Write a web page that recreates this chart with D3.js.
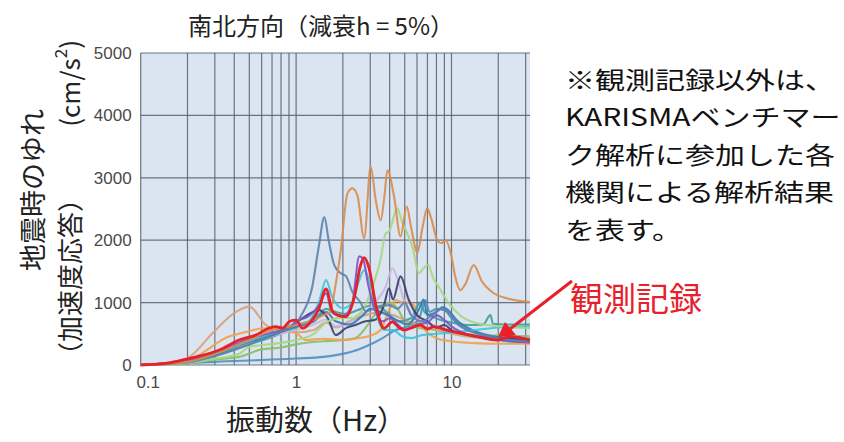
<!DOCTYPE html>
<html>
<head>
<meta charset="utf-8">
<script src="https://cdn.jsdelivr.net/npm/d3@7"></script>
<style>
body{margin:0;background:#fff;}
svg text{font-family:"Noto Sans CJK JP","Noto Sans",sans-serif;}
</style>
</head>
<body>
<svg id="chart" width="844" height="442"></svg>
<script>
//
// data : [frequency Hz, acceleration response cm/s2]
//
var yTicks = [0, 1000, 2000, 3000, 4000, 5000];
var xLabels = [0.1, 1, 10];

var orangeBig = [[0.1,0],[0.2,50],[0.3,180],[0.5,400],[0.7,560],[1,640],[1.3,720],[1.5,800],[1.65,850],[1.8,1300],[1.94,1840],[2.14,2750],[2.3,2830],[2.48,2720],[2.74,2030],[3.02,3180],[3.25,2650],[3.5,2320],[3.7,2700],[3.87,3120],[4.27,2700],[4.7,2060],[5.15,2540],[5.5,2200],[6.03,1800],[6.5,2200],[6.98,2510],[7.4,2350],[8.1,2000],[8.6,1950],[9.1,2000],[10,1740],[10.5,1450],[11.4,1200],[12.3,1300],[13.9,1600],[15.7,1340],[18.7,1150],[22.7,1070],[32,1010]];
var steelBlue = [[0.1,0],[0.2,40],[0.3,150],[0.5,330],[0.7,480],[0.85,560],[1,660],[1.07,780],[1.27,1250],[1.4,1900],[1.52,2370],[1.62,2000],[1.76,1600],[1.94,1470],[2.1,1420],[2.3,1175],[2.6,1000],[2.81,860],[3.1,900],[3.5,950],[4,960],[4.5,900],[5,1000],[5.5,800],[6.5,700],[7.5,800],[8.5,900],[9.5,850],[11,650],[14,520],[20,430],[32,380]];
var lightGreen = [[0.1,0],[0.2,30],[0.3,100],[0.43,180],[0.5,290],[0.78,350],[1,400],[1.3,500],[1.6,700],[2,760],[2.3,750],[2.7,900],[3.1,1250],[3.5,1700],[3.77,2110],[3.96,2140],[4.48,2510],[4.8,2300],[5.19,2110],[5.6,1900],[6.18,1470],[6.6,1550],[7.1,1600],[7.6,1400],[8.3,1250],[9.6,990],[11.7,770],[14,680],[20,620],[32,590]];
var purple = [[0.1,0],[0.2,70],[0.3,200],[0.5,420],[0.7,520],[0.9,600],[1,700],[1.2,780],[1.4,950],[1.56,1150],[1.7,850],[2,780],[2.3,1000],[2.55,1740],[2.7,1700],[2.9,1300],[3.2,900],[3.6,700],[4,750],[4.5,650],[5,560],[6,650],[7,680],[8,800],[9,720],[10,620],[13,480],[18,420],[32,360]];
var navy = [[0.1,0],[0.2,60],[0.3,170],[0.5,380],[0.7,480],[0.9,600],[1.1,750],[1.41,880],[1.6,750],[1.8,480],[2.09,590],[2.4,640],[2.8,700],[3.2,720],[3.68,960],[3.96,1230],[4.2,1050],[4.7,1420],[5.3,1050],[6,800],[7,700],[8,600],[9,640],[10,560],[13,480],[20,430],[32,400]];
var lavender = [[0.1,0],[0.2,50],[0.3,160],[0.5,350],[0.7,470],[1,560],[1.3,650],[1.56,730],[1.8,620],[2.1,650],[2.5,800],[2.8,850],[3.2,1000],[3.77,1250],[4.16,1550],[4.6,1300],[5,1000],[5.6,800],[6.5,700],[8,620],[10,560],[14,470],[20,430],[32,400]];
var cyan = [[0.1,0],[0.2,50],[0.3,170],[0.5,380],[0.7,500],[1,650],[1.2,700],[1.4,1000],[1.56,1360],[1.7,1100],[2,910],[2.3,1000],[2.5,1300],[2.75,1520],[3,1300],[3.3,800],[3.7,560],[4.2,560],[4.8,460],[5.5,430],[6.5,480],[8,500],[10,520],[14,560],[20,600],[32,620]];
var teal = [[0.1,0],[0.2,40],[0.3,140],[0.5,330],[0.7,450],[1,600],[1.3,720],[1.56,900],[1.8,850],[2.1,820],[2.5,880],[3,950],[3.5,920],[4,800],[4.5,700],[5.5,750],[6.3,1000],[6.7,850],[7.5,780],[8.5,720],[10,680],[13,640],[16,650],[17.8,800],[18.5,660],[22,650],[32,650]];
var tan = [[0.1,0],[0.15,40],[0.2,110],[0.29,510],[0.41,850],[0.5,935],[0.64,640],[0.8,560],[1,520],[1.3,560],[1.56,680],[1.8,600],[2.2,700],[2.8,800],[3.5,850],[4.2,800],[5,720],[6,650],[8,560],[10,500],[14,440],[20,420],[32,400]];
var lightOrange = [[0.1,0],[0.2,80],[0.37,455],[0.5,540],[0.61,590],[0.8,560],[1,510],[1.16,400],[1.5,420],[2,400],[2.5,430],[3,470],[3.5,560],[4,900],[4.4,1040],[4.7,1015],[5.2,1000],[5.75,960],[6.2,690],[7,520],[8,430],[10,380],[14,350],[20,340],[32,340]];
var blueLow = [[0.1,0],[0.3,50],[1,105],[1.5,130],[2.1,190],[2.3,215],[2.95,320],[3.6,430],[4.37,560],[5,600],[5.5,640],[6.2,750],[6.8,1040],[7.2,850],[8,900],[9,880],[10,750],[12,600],[15,500],[20,400],[32,350]];
var green2 = [[0.1,0],[0.2,30],[0.3,90],[0.43,130],[0.6,250],[0.8,280],[1,330],[1.2,360],[1.5,380],[2,400],[2.4,430],[3,700],[3.4,900],[4,1000],[4.5,900],[5,700],[6,600],[8,560],[10,520],[15,480],[20,470],[32,460]];
var blueMid = [[0.1,0],[0.2,60],[0.3,170],[0.5,370],[0.7,480],[1,620],[1.3,700],[1.56,850],[1.8,700],[2.2,650],[2.7,800],[3,900],[3.5,850],[4,780],[4.6,700],[5.2,650],[6.2,900],[6.6,1050],[7,800],[8,850],[8.8,930],[9.5,880],[11,700],[14,550],[20,450],[32,420]];
// observed record
var observed = [[0.1,0],[0.15,30],[0.2,100],[0.32,240],[0.43,400],[0.55,480],[0.67,590],[0.74,615],[0.82,590],[0.91,700],[1,720],[1.1,590],[1.25,700],[1.4,900],[1.56,1220],[1.72,850],[1.85,800],[2.09,775],[2.36,1070],[2.6,1600],[2.74,1720],[2.95,1550],[3.26,960],[3.68,590],[4.16,690],[4.6,600],[4.95,560],[5.6,600],[6.3,640],[7,580],[7.7,615],[9.3,560],[11.4,510],[14.6,455],[19.6,400],[23.9,455],[32,400]];

var series = [
    {d: blueLow, c: "#4f8fc0"},
    {d: green2, c: "#86bf62"},
    {d: tan, c: "#d6a07c"},
    {d: lightOrange, c: "#f2a046"},
    {d: teal, c: "#3f9e9b"},
    {d: lavender, c: "#c6b6dc"},
    {d: blueMid, c: "#3a78b4"},
    {d: navy, c: "#3b3d6e"},
    {d: cyan, c: "#39c4dc"},
    {d: lightGreen, c: "#a6d67e"},
    {d: purple, c: "#7d52c6"},
    {d: steelBlue, c: "#5b82ac"},
    {d: orangeBig, c: "#d98c4e"}
];

var svg = d3.select("#chart");
var x = d3.scaleLog().domain([0.1, 32]).range([140.7, 530]);
var y = d3.scaleLinear().domain([0, 5000]).range([365, 53]);

// plot background
svg.append("rect")
    .attr("x", x(0.1)).attr("y", y(5000))
    .attr("width", x(32) - x(0.1)).attr("height", y(0) - y(5000))
    .attr("fill", "#dbe5f1");

// grid
var grid = svg.append("g").attr("stroke", "#56606e").attr("stroke-width", 1.2).attr("stroke-opacity", 0.85);
grid.selectAll("line.v").data(x.ticks()).enter().append("line")
    .attr("x1", d => x(d)).attr("x2", d => x(d))
    .attr("y1", y(5000)).attr("y2", y(0));
grid.selectAll("line.h").data(yTicks).enter().append("line")
    .attr("x1", x(0.1)).attr("x2", x(32))
    .attr("y1", d => y(d)).attr("y2", d => y(d));

// axes
var yAxis = svg.append("g").attr("transform", "translate(" + x(0.1) + ",0)")
    .call(d3.axisLeft(y).tickValues(yTicks).tickFormat(d => String(d)).tickSize(0).tickPadding(9));
var xAxis = svg.append("g").attr("transform", "translate(0," + y(0) + ")")
    .call(d3.axisBottom(x).tickValues(xLabels).tickFormat(d => d).tickSize(0).tickPadding(11));
[yAxis, xAxis].forEach(function(a){
    a.select(".domain").remove();
    a.selectAll("text").style("font-family", "'Liberation Sans',Arial,sans-serif")
        .attr("font-size", 17).attr("fill", "#4a4a4a");
});
xAxis.selectAll("text").filter(d => d == 0.1).attr("dx", 7);

// lines
var line = d3.line().x(d => x(d[0])).y(d => y(d[1])).curve(d3.curveMonotoneX);
var lines = svg.append("g").attr("fill", "none").attr("stroke-linejoin", "round");
series.forEach(function(s){
    lines.append("path").attr("d", line(s.d))
        .attr("stroke", s.c).attr("stroke-width", 2.1).attr("stroke-opacity", 0.9);
});
lines.append("path").attr("d", line(observed))
    .attr("stroke", "#e8202a").attr("stroke-width", 2.8);

// title
svg.append("text").attr("x", 321).attr("y", 35).attr("text-anchor", "middle")
    .attr("font-size", 24).attr("fill", "#222").text("南北方向（減衰h = 5%）");

// y label
svg.append("text").attr("transform", "translate(31,190) rotate(-90)")
    .attr("text-anchor", "middle").attr("dominant-baseline", "central")
    .attr("font-size", 27).attr("fill", "#222").text("地震時のゆれ");
svg.append("text").attr("transform", "translate(68,368) rotate(-90)")
    .attr("dominant-baseline", "central")
    .attr("font-size", 26).attr("fill", "#222").text("（加速度応答）");
var unit = svg.append("text").attr("transform", "translate(68,40) rotate(-90)")
    .attr("text-anchor", "end").attr("dominant-baseline", "central")
    .attr("font-size", 26).attr("fill", "#222");
unit.append("tspan").text("(cm/s");
unit.append("tspan").attr("font-size", 17).attr("dy", -9).text("2");
unit.append("tspan").attr("dy", 9).text(")");

// x label
svg.append("text").attr("x", 316).attr("y", 431).attr("text-anchor", "middle")
    .attr("font-size", 29).attr("fill", "#222").text("振動数（Hz）");

// note
var noteLines = ["※観測記録以外は、", "KARISMAベンチマー", "ク解析に参加した各", "機関による解析結果", "を表す。"];
var note = svg.append("g").attr("transform", "translate(565,0) scale(1.25,1)");
note.selectAll("text").data(noteLines).enter().append("text")
    .attr("x", 0).attr("y", (d, i) => 89 + i * 37.5)
    .attr("font-size", 24).attr("fill", "#111").text(d => d);

svg.append("text").attr("x", 570).attr("y", 311)
    .attr("font-size", 33).attr("fill", "#e8202a").text("観測記録");

// arrow
svg.append("line").attr("x1", 572).attr("y1", 281).attr("x2", 510).attr("y2", 329)
    .attr("stroke", "#e8202a").attr("stroke-width", 3);
svg.append("path").attr("d", "M498,337 L505,322 L516,335 Z").attr("fill", "#e8202a");
</script>
</body>
</html>
